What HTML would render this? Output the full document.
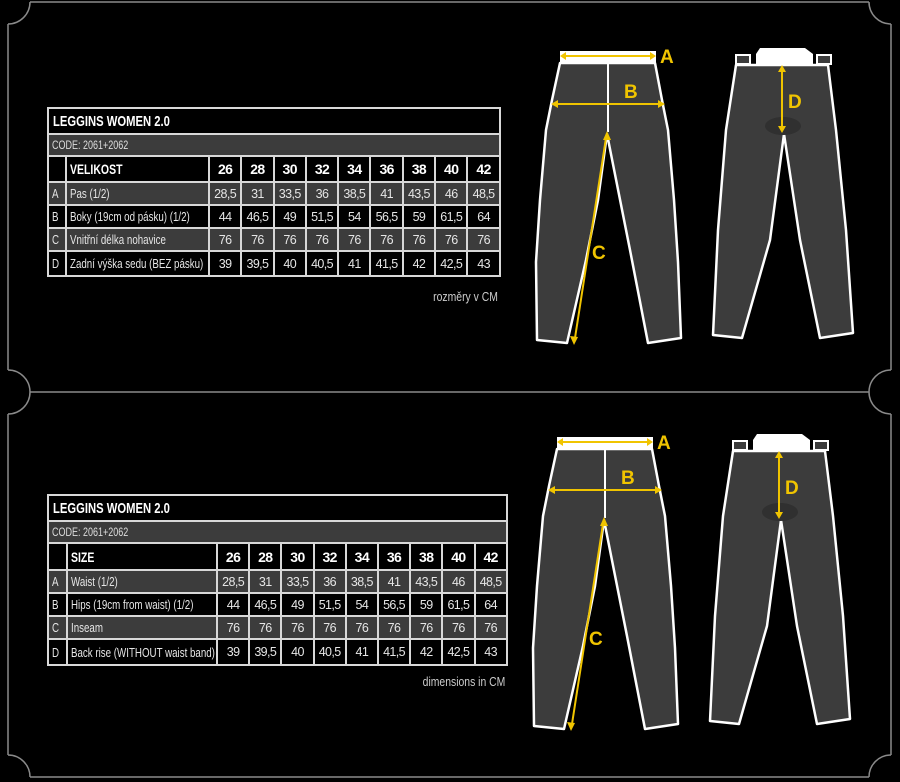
<!DOCTYPE html>
<html><head><meta charset="utf-8"><style>
html,body{margin:0;padding:0;background:#000;}
body{width:900px;height:782px;position:relative;overflow:hidden;font-family:"Liberation Sans",sans-serif;}
table{position:absolute;border-collapse:collapse;table-layout:fixed;color:#e6e6e6;}
td{border:2px solid #d8d8d8;padding:0 0 0 3px;font-size:13px;white-space:nowrap;overflow:hidden;}
td.n{text-align:center;padding:0;font-size:12.5px;letter-spacing:-0.6px;}
td span{display:inline-block;transform:scaleX(0.75);transform-origin:left center;}
tr.t td{font-weight:bold;font-size:15px;color:#fff;background:#000;padding-left:4px;}
tr.c td{background:#3c3c3c;font-size:12px;color:#ddd;}
tr.h td{font-weight:bold;font-size:14px;color:#fff;background:#000;}
tr.g td{background:#3c3c3c;}
tr.b td{background:#000;}
.note{position:absolute;color:#ccc;font-size:13px;transform:scaleX(0.8);transform-origin:right center;}
svg{position:absolute;left:0;top:0;}
</style></head><body>
<svg width="900" height="782" viewBox="0 0 900 782">
<g fill="none" stroke="#8a8a8a" stroke-width="1.5">
<path d="M30 2 H869 M8 24 V370 M8 414 V755 M30 777 H869 M891 24 V370 M891 414 V755"/>
<path d="M30 2 A22 22 0 0 1 8 24"/>
<path d="M8 370 A22 22 0 0 1 30 392 A22 22 0 0 1 8 414"/>
<path d="M30 392 H869"/>
<path d="M891 370 A22 22 0 0 0 869 392 A22 22 0 0 0 891 414"/>
<path d="M8 755 A22 22 0 0 1 30 777"/>
<path d="M869 777 A22 22 0 0 1 891 755"/>
<path d="M869 2 A22 22 0 0 0 891 24"/>
</g>
<defs>
<g id="pants">
<path d="M560 63 L655 63 L662 100 L668 130 L674 200 L678 262 L681 338 L648 343 L630 250 L607 134 L598 200 L586 260 L567 343 L537 340 L536 262 L540 200 L546 130 L552 100 Z" fill="#3c3c3c" stroke="#fff" stroke-width="2.5" stroke-linejoin="round"/>
<rect x="560" y="51" width="96" height="12" fill="#fff"/>
<line x1="608" y1="63" x2="608" y2="132" stroke="#fff" stroke-width="2"/>
<g stroke="#f0c400" stroke-width="2" fill="#f0c400">
<line x1="564" y1="56" x2="652" y2="56"/>
<path d="M560 56 l6 -4 v8z M656 56 l-6 -4 v8z" stroke="none"/>
<line x1="556" y1="104" x2="660" y2="104"/>
<path d="M551 104 l7 -4 v8z M665 104 l-7 -4 v8z" stroke="none"/>
<line x1="606" y1="138" x2="575" y2="338"/>
<path d="M607 131 l4 9 h-8z M574 345 l-4 -9 l8 1z" stroke="none"/>
</g>
<g fill="#f0c400" font-family="Liberation Sans, sans-serif" font-weight="bold" font-size="19">
<text x="660" y="63">A</text><text x="624" y="98">B</text><text x="592" y="259">C</text>
</g>
<path d="M736 65 L828 65 L836 130 L846 230 L853 333 L820 338 L800 240 L784 134 L770 240 L742 338 L713 335 L718 230 L726 130 Z" fill="#3c3c3c" stroke="#fff" stroke-width="2.5" stroke-linejoin="round"/>
<ellipse cx="783" cy="126" rx="18" ry="9" fill="#303030"/>
<path d="M756 54 L760 48 L805 48 L813 54 L813 65 L756 65 Z" fill="#fff"/>
<rect x="736" y="55" width="14" height="9" fill="#3c3c3c" stroke="#fff" stroke-width="2"/>
<rect x="817" y="55" width="14" height="9" fill="#3c3c3c" stroke="#fff" stroke-width="2"/>
<g stroke="#f0c400" stroke-width="2" fill="#f0c400">
<line x1="782" y1="70" x2="782" y2="128"/>
<path d="M782 65 l-4 7 h8z M782 133 l-4 -7 h8z" stroke="none"/>
</g>
<text x="788" y="108" fill="#f0c400" font-family="Liberation Sans, sans-serif" font-weight="bold" font-size="19">D</text>
</g>
</defs>
<use href="#pants"/>
<use href="#pants" transform="translate(-3,386)"/>
</svg>

<table style="left:47px;top:107px;width:452px;">
<colgroup><col style="width:18px"><col style="width:143px"><col span="9" style="width:32.3px"></colgroup>
<tr class="t" style="height:26px"><td colspan="11"><span>LEGGINS WOMEN 2.0</span></td></tr>
<tr class="c" style="height:22px"><td colspan="11"><span>CODE: 2061+2062</span></td></tr>
<tr class="h" style="height:26px"><td></td><td><span>VELIKOST</span></td><td class="n">26</td><td class="n">28</td><td class="n">30</td><td class="n">32</td><td class="n">34</td><td class="n">36</td><td class="n">38</td><td class="n">40</td><td class="n">42</td></tr>
<tr class="g" style="height:23px"><td><span>A</span></td><td><span>Pas (1/2)</span></td><td class="n">28,5</td><td class="n">31</td><td class="n">33,5</td><td class="n">36</td><td class="n">38,5</td><td class="n">41</td><td class="n">43,5</td><td class="n">46</td><td class="n">48,5</td></tr>
<tr class="b" style="height:23px"><td><span>B</span></td><td><span>Boky (19cm od pásku) (1/2)</span></td><td class="n">44</td><td class="n">46,5</td><td class="n">49</td><td class="n">51,5</td><td class="n">54</td><td class="n">56,5</td><td class="n">59</td><td class="n">61,5</td><td class="n">64</td></tr>
<tr class="g" style="height:23px"><td><span>C</span></td><td><span>Vnitřní délka nohavice</span></td><td class="n">76</td><td class="n">76</td><td class="n">76</td><td class="n">76</td><td class="n">76</td><td class="n">76</td><td class="n">76</td><td class="n">76</td><td class="n">76</td></tr>
<tr class="b" style="height:25px"><td><span>D</span></td><td><span>Zadní výška sedu (BEZ pásku)</span></td><td class="n">39</td><td class="n">39,5</td><td class="n">40</td><td class="n">40,5</td><td class="n">41</td><td class="n">41,5</td><td class="n">42</td><td class="n">42,5</td><td class="n">43</td></tr>
</table>
<div class="note" style="right:402px;top:289px;">rozměry v CM</div>

<table style="left:47px;top:494px;width:459px;">
<colgroup><col style="width:19px"><col style="width:150px"><col span="9" style="width:32.2px"></colgroup>
<tr class="t" style="height:26px"><td colspan="11"><span>LEGGINS WOMEN 2.0</span></td></tr>
<tr class="c" style="height:22px"><td colspan="11"><span>CODE: 2061+2062</span></td></tr>
<tr class="h" style="height:27px"><td></td><td><span>SIZE</span></td><td class="n">26</td><td class="n">28</td><td class="n">30</td><td class="n">32</td><td class="n">34</td><td class="n">36</td><td class="n">38</td><td class="n">40</td><td class="n">42</td></tr>
<tr class="g" style="height:23px"><td><span>A</span></td><td><span>Waist (1/2)</span></td><td class="n">28,5</td><td class="n">31</td><td class="n">33,5</td><td class="n">36</td><td class="n">38,5</td><td class="n">41</td><td class="n">43,5</td><td class="n">46</td><td class="n">48,5</td></tr>
<tr class="b" style="height:23px"><td><span>B</span></td><td><span>Hips (19cm from waist) (1/2)</span></td><td class="n">44</td><td class="n">46,5</td><td class="n">49</td><td class="n">51,5</td><td class="n">54</td><td class="n">56,5</td><td class="n">59</td><td class="n">61,5</td><td class="n">64</td></tr>
<tr class="g" style="height:23px"><td><span>C</span></td><td><span>Inseam</span></td><td class="n">76</td><td class="n">76</td><td class="n">76</td><td class="n">76</td><td class="n">76</td><td class="n">76</td><td class="n">76</td><td class="n">76</td><td class="n">76</td></tr>
<tr class="b" style="height:26px"><td><span>D</span></td><td><span>Back rise (WITHOUT waist band)</span></td><td class="n">39</td><td class="n">39,5</td><td class="n">40</td><td class="n">40,5</td><td class="n">41</td><td class="n">41,5</td><td class="n">42</td><td class="n">42,5</td><td class="n">43</td></tr>
</table>
<div class="note" style="right:395px;top:674px;">dimensions in CM</div>
</body></html>
